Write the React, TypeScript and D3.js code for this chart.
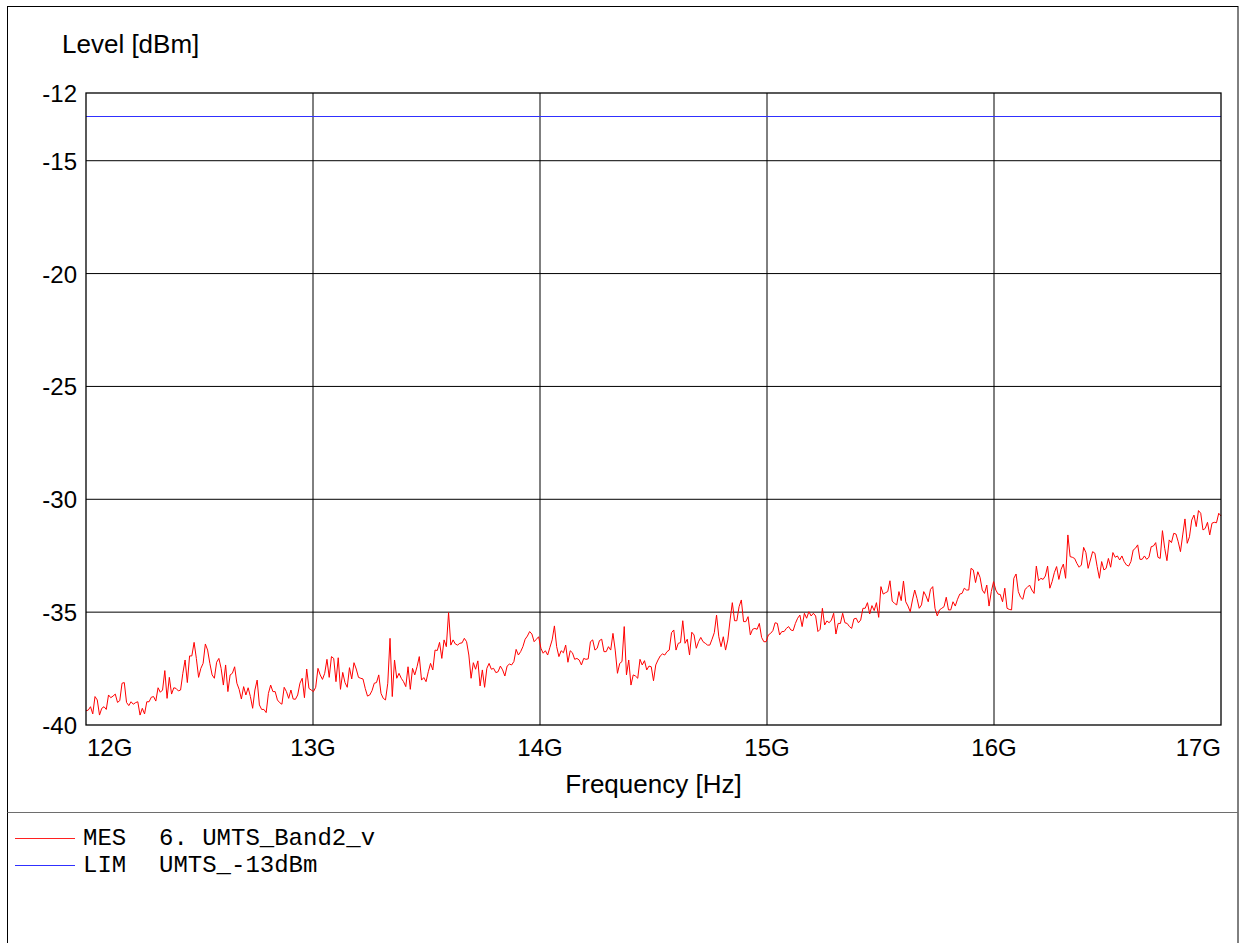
import React from "react";
import * as d3 from "d3";

// ---------- data ----------
const FREQ_START_GHZ = 12;
const FREQ_STOP_GHZ = 17;
const LIMIT_DBM = -13;
const yTicks = [-12, -15, -20, -25, -30, -35, -40];
const xTicks = [12, 13, 14, 15, 16, 17];
const xTickLabels = ["12G", "13G", "14G", "15G", "16G", "17G"];
const legendItems = [
  { tag: "MES", name: "6. UMTS_Band2_v", color: "#ff2020" },
  { tag: "LIM", name: "UMTS_-13dBm", color: "#3030ff" },
];

// measured level trace (dBm), uniform sweep 12 GHz .. 17 GHz
const levels = [
  -39.37,-39.34,-39.19,-39.51,-38.74,-38.89,-39.56,-39.26,-39.19,-39.31,
  -38.67,-38.79,-38.72,-38.63,-39.0,-38.92,-38.15,-38.12,-39.0,-39.14,
  -38.97,-39.08,-39.01,-38.97,-39.56,-39.26,-39.51,-38.97,-38.97,-38.77,
  -38.74,-38.94,-38.35,-38.55,-38.45,-37.59,-38.82,-37.89,-38.63,-38.35,
  -38.38,-38.49,-38.45,-37.71,-37.12,-38.12,-36.94,-36.94,-36.34,-37.05,
  -37.89,-37.49,-37.27,-36.41,-36.68,-37.27,-37.78,-37.93,-37.22,-37.05,
  -37.49,-38.23,-37.34,-38.52,-37.78,-37.71,-37.42,-38.15,-38.42,-38.85,
  -38.30,-38.67,-38.35,-38.74,-39.26,-38.45,-38.01,-39.11,-39.31,-39.31,
  -39.45,-38.60,-38.23,-38.52,-38.52,-38.89,-39.01,
  -39.08,-38.33,-38.52,-38.82,-38.45,-38.85,-38.86,-38.67,-38.15,-37.93,
  -38.79,-37.52,-38.38,-38.45,-38.52,-38.33,-37.49,-37.78,-37.98,-37.71,
  -37.09,-37.89,-36.97,-37.05,-38.08,-37.02,-38.42,-37.67,-38.12,-38.33,
  -37.46,-37.96,-37.24,-37.52,-37.89,-37.93,-37.96,-38.38,-38.72,-38.67,
  -38.48,-38.15,-38.12,-37.78,-38.60,-38.82,-38.89,-38.15,-36.16,-38.74,
  -37.12,-37.93,-37.71,-37.93,-38.08,-38.30,-37.42,-38.42,-37.49,-37.78,
  -37.42,-36.97,-38.01,-37.90,-38.08,-37.64,-37.27,-37.56,-36.68,-36.70,
  -36.34,-37.05,-36.23,-36.53,-35.02,-36.46,-36.23,-36.41,-36.46,-36.38,
  -36.36,-36.16,-36.31,
  -36.90,-37.93,-37.24,-37.53,-37.16,-38.27,-37.56,-38.33,-37.49,-37.27,
  -37.53,-37.49,-37.68,-37.64,-37.39,-37.56,-37.83,-37.39,-37.30,-37.34,
  -37.19,-36.65,-36.90,-36.75,-36.53,-36.20,-36.06,-35.86,-35.97,-36.31,
  -36.20,-36.09,-36.60,-36.82,-36.71,-36.90,-36.56,-36.23,-35.61,-36.53,
  -36.97,-36.71,-36.80,-36.46,-37.22,-36.71,-36.80,-37.09,-37.05,-37.12,
  -37.34,-37.05,-37.09,-37.07,-36.31,-36.23,-36.68,-36.60,-36.26,-36.20,
  -36.75,-36.75,-36.53,-36.68,-35.94,-36.68,-37.71,-37.27,-37.19,-35.64,
  -37.78,-37.12,-38.23,-37.78,-37.83,-37.93,-37.09,-37.34,-37.15,-37.56,
  -37.39,-37.42,-38.04,-37.34,-37.12,
  -36.94,-36.85,-36.90,-36.75,-36.68,-35.91,-35.79,-36.68,-36.38,-36.35,
  -35.38,-36.38,-36.20,-36.90,-35.89,-36.01,-36.60,-36.31,-36.12,-36.31,
  -36.38,-36.46,-36.46,-36.20,-35.91,-35.13,-36.09,-36.53,-36.09,-36.68,
  -36.23,-35.35,-34.58,-35.38,-35.38,-34.76,-34.46,-35.42,-35.42,-35.20,
  -36.01,-35.76,-35.72,-35.76,-35.50,-36.12,-36.31,-36.31,-36.01,-35.94,
  -35.82,-35.47,-35.50,-36.01,-35.86,-35.86,-35.72,-35.64,-35.79,-35.82,
  -35.50,-35.27,-35.13,-35.64,-35.05,-35.27,-34.98,-35.17,-35.05,-35.17,
  -35.86,-35.76,-34.83,-35.57,-35.39,-35.47,-35.35,-35.05,-35.97,-35.50,
  -35.50,-35.05,-35.47,-35.50,
  -35.64,-35.72,-35.30,-35.27,-35.47,-35.35,-34.83,-34.83,-34.58,-35.08,
  -34.71,-34.93,-34.58,-35.23,-33.87,-34.20,-34.14,-34.09,-33.61,-34.51,
  -34.61,-34.68,-34.09,-34.49,-33.62,-34.54,-34.73,-34.98,-34.46,-34.02,
  -34.39,-34.83,-34.68,-34.09,-34.28,-34.54,-33.99,-33.87,-34.83,-35.17,
  -34.90,-34.83,-34.76,-34.34,-34.90,-34.90,-34.54,-34.73,-34.43,-34.20,
  -34.17,-33.94,-34.02,-34.02,-33.06,-33.13,-33.69,-33.21,-33.46,-34.02,
  -34.17,-33.80,-34.73,-34.09,-33.65,-34.02,-34.20,-34.22,-34.54,-33.94,
  -34.83,-34.88,-34.90,-33.50,-33.31,-34.09,-34.34,-34.43,-33.99,-33.90,
  -33.80,-34.02,-34.17,-32.96,-33.61,-33.50,
  -33.55,-33.40,-32.96,-33.94,-33.65,-33.25,-32.98,-33.55,-33.10,-32.87,
  -33.50,-31.58,
  -32.54,-32.57,-32.62,-32.84,-33.01,-32.91,-32.13,-32.36,-33.06,-32.69,
  -32.32,-32.39,-32.98,-33.50,-32.76,-33.13,-33.06,-32.62,-33.01,-32.36,
  -32.57,-32.51,-32.69,-32.51,-32.76,-32.91,-32.96,-32.76,-32.25,-32.17,
  -32.02,-32.66,-32.66,-32.51,-32.66,-32.57,-32.10,-32.07,-31.92,-32.57,
  -32.62,-31.39,-32.17,-32.72,-31.80,-31.92,-31.51,-31.54,-31.88,-32.32,
  -31.58,-30.87,-31.95,-31.66,-30.92,-30.70,-31.21,-30.50,-30.62,-31.36,
  -31.29,-31.02,-31.58,-31.06,-31.02,-31.04,-30.62,-30.74,
];

// ---------- layout ----------
const W = 1242;
const H = 943;
const plot = { left: 86, right: 1221, top: 93, bottom: 725 };
const SANS = "'Liberation Sans', Arial, Helvetica, sans-serif";
const MONO = "'Liberation Mono', 'Courier New', monospace";

export default function App() {
  const x = d3
    .scaleLinear()
    .domain([FREQ_START_GHZ, FREQ_STOP_GHZ])
    .range([plot.left, plot.right]);
  const y = d3.scaleLinear().domain([-40, -12]).range([plot.bottom, plot.top]);

  const step = (FREQ_STOP_GHZ - FREQ_START_GHZ) / (levels.length - 1);
  const pts: [number, number][] = levels.map((v, i) => [FREQ_START_GHZ + i * step, v]);
  const line = d3
    .line<[number, number]>()
    .x((d) => x(d[0]))
    .y((d) => y(d[1]));

  const gridY = yTicks.filter((t) => t !== -12 && t !== -40);
  const gridX = xTicks.filter((t) => t !== FREQ_START_GHZ && t !== FREQ_STOP_GHZ);

  return (
    <svg
      width={W}
      height={H}
      style={{ position: "absolute", left: 0, top: 0, background: "#fff" }}
    >
      <rect x={0} y={0} width={W} height={H} fill="#fff" />
      {/* outer frame */}
      <rect x={7.5} y={6.5} width={1230.5} height={H + 10} fill="none" stroke="#000" strokeWidth={1} />
      {/* separator */}
      <line x1={7.5} x2={1238} y1={812.5} y2={812.5} stroke="#6e6e6e" strokeWidth={1.2} />

      {/* grid */}
      {gridY.map((t) => (
        <line key={"gy" + t} x1={plot.left} x2={plot.right} y1={y(t)} y2={y(t)} stroke="#000" strokeWidth={1} />
      ))}
      {gridX.map((t) => (
        <line key={"gx" + t} x1={x(t)} x2={x(t)} y1={plot.top} y2={plot.bottom} stroke="#000" strokeWidth={1} />
      ))}

      {/* limit line */}
      <line
        x1={plot.left}
        x2={plot.right}
        y1={Math.round(y(LIMIT_DBM)) + 0.5}
        y2={Math.round(y(LIMIT_DBM)) + 0.5}
        stroke="#3030ff"
        strokeWidth={1}
      />

      {/* trace */}
      <path d={line(pts) || ""} fill="none" stroke="#ff0000" strokeWidth={1} strokeLinejoin="round" />

      {/* plot frame */}
      <rect
        x={plot.left}
        y={plot.top}
        width={plot.right - plot.left}
        height={plot.bottom - plot.top}
        fill="none"
        stroke="#000"
        strokeWidth={1.3}
      />

      {/* y tick labels */}
      {yTicks.map((t) => (
        <text key={"yt" + t} x={77} y={y(t) + 9} textAnchor="end" fontFamily={SANS} fontSize={24} fill="#000">
          {t}
        </text>
      ))}
      {/* x tick labels */}
      {xTicks.map((t, i) => (
        <text
          key={"xt" + t}
          x={i === 0 ? x(t) + 1 : x(t)}
          y={756}
          textAnchor={i === 0 ? "start" : i === xTicks.length - 1 ? "end" : "middle"}
          fontFamily={SANS}
          fontSize={24}
          fill="#000"
        >
          {xTickLabels[i]}
        </text>
      ))}

      {/* axis titles */}
      <text x={62} y={53} fontFamily={SANS} fontSize={26} fill="#000">
        Level [dBm]
      </text>
      <text x={(plot.left + plot.right) / 2} y={793} textAnchor="middle" fontFamily={SANS} fontSize={26} fill="#000">
        Frequency [Hz]
      </text>

      {/* legend */}
      {legendItems.map((it, i) => (
        <g key={it.tag}>
          <line
            x1={15}
            x2={75}
            y1={838.5 + i * 27}
            y2={838.5 + i * 27}
            stroke={it.color}
            strokeWidth={1}
          />
          <text x={83} y={845 + i * 27} fontFamily={MONO} fontSize={24} fill="#000">
            {it.tag}
          </text>
          <text x={159} y={845 + i * 27} fontFamily={MONO} fontSize={24} fill="#000">
            {it.name}
          </text>
        </g>
      ))}
    </svg>
  );
}
